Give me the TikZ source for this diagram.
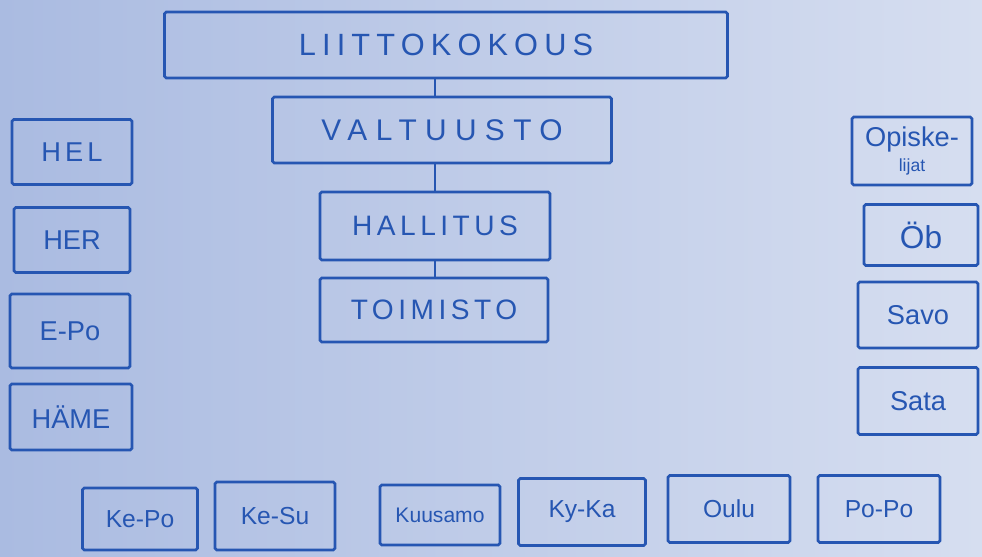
\documentclass[tikz,border=0pt]{standalone}
\usepackage{fontspec}
\setmainfont{Liberation Sans}
\definecolor{ink}{RGB}{38,86,178}
\definecolor{paperA}{RGB}{170,187,225}
\definecolor{paperB}{RGB}{214,222,240}
\tikzset{
  box/.style={draw=ink,line width=1.5pt,text=ink,inner sep=0pt,rounded corners=1pt},
  bigtext/.style={font=\fontsize{17.5}{20}\selectfont\addfontfeatures{LetterSpace=20}},
  midtext/.style={font=\fontsize{16}{18}\selectfont\addfontfeatures{LetterSpace=16}},
  smalltext/.style={font=\fontsize{14}{16}\selectfont},
  sidetext/.style={font=\fontsize{15.5}{18}\selectfont}
}
\begin{document}
\begin{tikzpicture}[x=0.02cm,y=-0.02cm]
\useasboundingbox (0,0) rectangle (982,556);
\shade[left color=paperA,right color=paperB] (0,0) rectangle (982,556);
\node[box,bigtext,minimum width=11.26cm,minimum height=1.32cm] (liitto) at (446,45) {LIITTOKOKOUS};
\node[box,midtext,font=\fontsize{17}{20}\selectfont\addfontfeatures{LetterSpace=28},minimum width=6.78cm,minimum height=1.32cm] (valt) at (442,130) {VALTUUSTO};
\node[box,midtext,minimum width=4.6cm,minimum height=1.36cm] (hall) at (435,226) {HALLITUS};
\node[box,midtext,minimum width=4.56cm,minimum height=1.28cm] (toim) at (434,310) {TOIMISTO};
\draw[ink,line width=1.5pt] (liitto.south -| hall) -- (valt.north -| hall);
\draw[ink,line width=1.5pt] (valt.south -| hall) -- (hall.north);
\draw[ink,line width=1.5pt] (hall.south) -- (toim.north -| hall);
\node[box,sidetext,font=\fontsize{15.5}{18}\selectfont\addfontfeatures{LetterSpace=15},minimum width=2.4cm,minimum height=1.3cm] (hel) at (72,152) {HEL};
\node[box,sidetext,minimum width=2.32cm,minimum height=1.3cm] (her) at (72,240) {HER};
\node[box,sidetext,minimum width=2.4cm,minimum height=1.48cm] (epo) at (70,331) {E-Po};
\node[box,sidetext,minimum width=2.44cm,minimum height=1.32cm] (hame) at (71,417) {HÄME};
\node[box,sidetext,align=center,minimum width=2.4cm,minimum height=1.36cm] (opisk) at (912,151) {Opiske-\\[-4pt]{\fontsize{10}{11}\selectfont lijat}};
\node[box,sidetext,minimum width=2.28cm,minimum height=1.22cm] (ob) at (921,235) {\fontsize{18}{20}\selectfont Öb};
\node[box,sidetext,minimum width=2.4cm,minimum height=1.32cm] (savo) at (918,315) {Savo};
\node[box,sidetext,minimum width=2.4cm,minimum height=1.34cm] (sata) at (918,401) {Sata};
\node[box,smalltext,minimum width=2.3cm,minimum height=1.24cm] (kepo) at (140,519) {Ke-Po};
\node[box,smalltext,minimum width=2.4cm,minimum height=1.36cm] (kesu) at (275,516) {Ke-Su};
\node[box,smalltext,minimum width=2.4cm,minimum height=1.2cm] (kuusamo) at (440,515) {\fontsize{12}{14}\selectfont Kuusamo};
\node[box,smalltext,minimum width=2.54cm,minimum height=1.34cm] (kyka) at (582,512) {Ky-Ka};
\node[box,smalltext,minimum width=2.44cm,minimum height=1.34cm] (oulu) at (729,509) {Oulu};
\node[box,smalltext,minimum width=2.44cm,minimum height=1.34cm] (popo) at (879,509) {Po-Po};
\end{tikzpicture}
\end{document}
